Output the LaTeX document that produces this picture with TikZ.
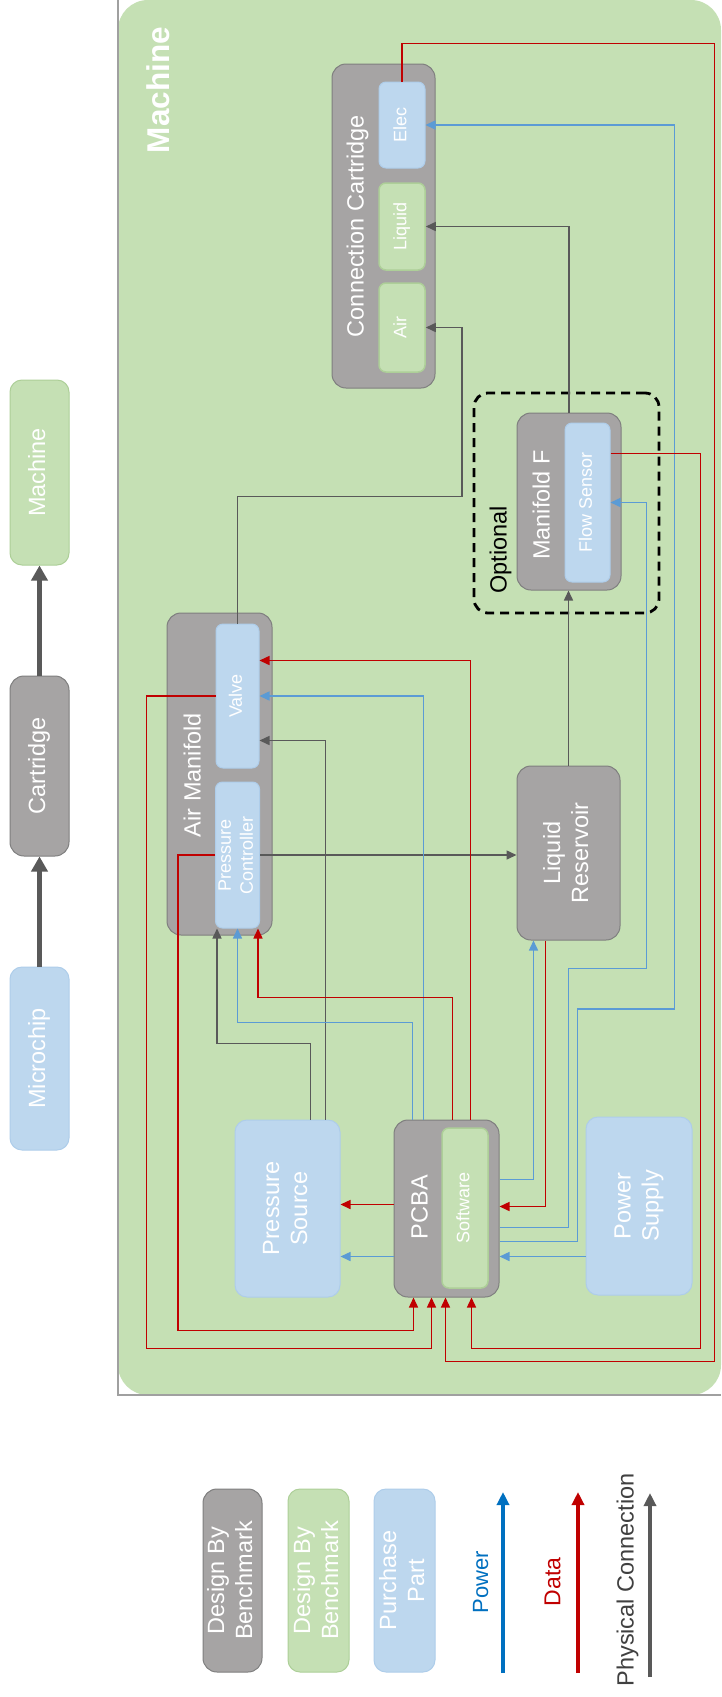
\documentclass[tikz,border=0pt]{standalone}
\usepackage{fontspec}
\setmainfont{Liberation Sans}
\usetikzlibrary{arrows.meta,calc}
\definecolor{bggreen}{HTML}{C5E0B4}
\definecolor{boxgray}{HTML}{A6A4A4}
\definecolor{edgegray}{HTML}{7F7F7F}
\definecolor{boxblue}{HTML}{BDD7EE}
\definecolor{edgeblue}{HTML}{AECDEA}
\definecolor{edgegreen}{HTML}{ADCF98}
\definecolor{pwrblue}{HTML}{5B9BD5}
\definecolor{datred}{HTML}{C00000}
\definecolor{physgray}{HTML}{595959}
\definecolor{legblue}{HTML}{0070C0}
\definecolor{framegray}{HTML}{A0A0A0}
\definecolor{txtdark}{HTML}{404040}
\newcommand{\fbig}{\fontsize{23.5}{28}\selectfont}
\newcommand{\fsmall}{\fontsize{18}{22}\selectfont}
\newcommand{\rlab}[1]{\rotatebox{90}{\begin{tabular}{@{}c@{}}#1\end{tabular}}}
\begin{document}
\begin{tikzpicture}[x=1pt,y=-1pt,
  gbox/.style={draw=edgegray, fill=boxgray, rounded corners=14pt, inner sep=0pt, line width=1pt, text=white, font=\fbig},
  bbox/.style={draw=edgeblue, fill=boxblue, rounded corners=12pt, inner sep=0pt, line width=1pt, text=white, font=\fbig},
  grbox/.style={draw=edgegreen, fill=bggreen, rounded corners=12pt, inner sep=0pt, line width=1pt, text=white, font=\fbig},
  ibox/.style={draw=edgegreen, fill=bggreen, rounded corners=7pt, inner sep=0pt, line width=1.5pt, text=white, font=\fsmall},
  ibbox/.style={draw=edgeblue, fill=boxblue, rounded corners=7pt, inner sep=0pt, line width=1pt, text=white, font=\fsmall},
  lbl/.style={inner sep=0pt, text=white, font=\fbig},
  conn/.style={line width=1.5pt, -{Triangle[length=10pt,width=9pt]}},
  pow/.style={conn, draw=pwrblue},
  dat/.style={conn, draw=datred},
  phys/.style={conn, draw=physgray},
  bigarrow/.style={line width=5pt, draw=physgray, -{Triangle[length=15pt,width=16pt]}}
]
\useasboundingbox (0,0) rectangle (721,1697);
\fill[white] (0,0) rectangle (721,1697);

% machine frame
\node[fill=bggreen, rounded corners=30pt, inner sep=0pt, minimum width=603pt, minimum height=1395pt] (frame) at (419.5,697.5) {};
\draw[framegray, line width=1.5pt] (frame.north west) -- (frame.south west) -- (frame.south east);
\node[inner sep=0pt, text=white, font=\bfseries\fontsize{31.5}{38}\selectfont] (machinelbl) at (162,90) {\rlab{Machine}};

% connection cartridge
\node[gbox, minimum width=103pt, minimum height=324pt] (cc) at (383.5,226) {};
\node[lbl] (cctext) at (358,226) {\rlab{Connection Cartridge}};
\node[ibbox, minimum width=46pt, minimum height=86pt] (elec) at (402,125) {\rlab{Elec}};
\node[ibox, minimum width=46pt, minimum height=87pt] (liquid) at (402,226.5) {\rlab{Liquid}};
\node[ibox, minimum width=46pt, minimum height=89pt] (air) at (402,327.5) {\rlab{Air}};

% air manifold
\node[gbox, minimum width=105pt, minimum height=322pt] (am) at (219.5,774) {};
\node[lbl] (amtext) at (195,775) {\rlab{Air Manifold}};
\node[ibbox, minimum width=43pt, minimum height=144pt] (valve) at (237.5,696) {\rlab{Valve}};
\node[ibbox, minimum width=43pt, minimum height=146pt] (pc) at (237.5,855) {\rlab{Pressure\\Controller}};

% liquid reservoir
\node[gbox, minimum width=103pt, minimum height=174pt] (lr) at (568.5,853) {\rlab{Liquid\\Reservoir}};

% optional manifold F
\node[draw=black, line width=2.8pt, dash pattern=on 9pt off 6pt, rounded corners=14pt, minimum width=185pt, minimum height=220pt, inner sep=0pt] (optbox) at (566.5,503) {};
\node[inner sep=0pt, text=black, font=\fbig] (opttext) at (501,550) {\rlab{Optional}};
\node[gbox, minimum width=104pt, minimum height=177pt] (mff) at (569,501.5) {};
\node[lbl] (mftext) at (544,505) {\rlab{Manifold F}};
\node[ibbox, minimum width=45pt, minimum height=159pt] (fs) at (587.5,502.5) {\rlab{Flow Sensor}};

% bottom row
\node[bbox, minimum width=105pt, minimum height=177pt] (ps) at (287.5,1208.5) {\rlab{Pressure\\Source}};
\node[gbox, minimum width=105pt, minimum height=177pt] (pcba) at (446.5,1208.5) {};
\node[lbl] (pcbatext) at (422,1207) {\rlab{PCBA}};
\node[ibox, minimum width=46pt, minimum height=160pt] (sw) at (465,1208) {\rlab{Software}};
\node[bbox, minimum width=106pt, minimum height=178pt] (psu) at (639,1206) {\rlab{Power\\Supply}};

% physical connections
\draw[phys] (valve.north) -- ($(valve.north)+(0,-127)$) -| ($(air.east)+(36,0)$) -- (air.east);
\draw[phys] (mff.north) |- (liquid.east);
\draw[phys] (lr.north) -- (lr.north |- mff.south);
\draw[phys] (pc.east) -- (pc.east -| lr.west);
\draw[phys] ($(ps.north west)+(76,0)$) |- ($(pc.south west)+(2,115)$) -- ($(pc.south west)+(2,0)$);
\draw[phys] ($(ps.north west)+(91,0)$) |- ($(valve.south east)+(0,-28)$);

% power connections
\draw[pow] ($(pcba.north west)+(19,0)$) |- ($(pc.south)+(0,94)$) -- (pc.south);
\draw[pow] ($(pcba.north west)+(30,0)$) |- (valve.east);
\draw[pow] ($(pcba.south west)+(0,-41)$) -- ($(ps.south east)+(0,-41)$);
\draw[pow] ($(psu.south west)+(0,-39)$) -- ($(pcba.south east)+(0,-41)$);
\draw[pow] ($(pcba.north east)+(0,60)$) -| ($(lr.south west)+(17,0)$);
\draw[pow] ($(pcba.north east)+(0,108)$) -| ($(fs.east)+(-42,466)$) -| ($(fs.east)+(36,0)$) -- (fs.east);
\draw[pow] ($(pcba.north east)+(0,122)$) -| ($(elec.east)+(152,884)$) -| ($(elec.east)+(249,0)$) -- (elec.east);

% data connections
\draw[dat] ($(pcba.north west)+(77,0)$) |- ($(valve.north east)+(0,37)$);
\draw[dat] ($(pcba.north west)+(59,0)$) |- ($(pc.south east)+(-2,69)$) -- ($(pc.south east)+(-2,0)$);
\draw[dat] ($(pcba.north west)+(0,85)$) -- ($(ps.north east)+(0,85)$);
\draw[dat] ($(lr.south west)+(29,0)$) |- ($(pcba.north east)+(0,87)$);
\draw[dat] (valve.west) -- ++(-69,0) |- ($(pcba.south west)+(38,51)$) -- ($(pcba.south west)+(38,0)$);
\draw[dat] (pc.west) -- ++(-37,0) |- ($(pcba.south west)+(20,33)$) -- ($(pcba.south west)+(20,0)$);
\draw[dat] (elec.north) -- ++(0,-38) -| ($(pcba.south west)+(321,64)$) -| ($(pcba.south west)+(52,0)$);
\draw[dat] ($(fs.north east)+(0,31)$) -| ($(pcba.south west)+(307,51)$) -| ($(pcba.south west)+(78,0)$);

% top-left legend
\node[grbox, minimum width=59pt, minimum height=185pt] (mach) at (39.5,472.5) {\rlab{Machine}};
\node[gbox, minimum width=59pt, minimum height=180pt] (cart) at (39.5,766) {\rlab{Cartridge}};
\node[bbox, minimum width=59pt, minimum height=183pt] (micro) at (39.5,1058.5) {\rlab{Microchip}};
\draw[bigarrow] (micro.north) -- (cart.south);
\draw[bigarrow] (cart.north) -- (mach.south);

% bottom legend
\node[gbox, minimum width=59pt, minimum height=183pt] (lg1) at (232.5,1580.5) {\rlab{Design By\\Benchmark}};
\node[grbox, minimum width=61pt, minimum height=183pt] (lg2) at (318.5,1580.5) {\rlab{Design By\\Benchmark}};
\node[bbox, minimum width=61pt, minimum height=183pt] (lg3) at (404.5,1580.5) {\rlab{Purchase\\Part}};
\coordinate (pwa) at (503,1673);
\coordinate (pwb) at (503,1492);
\coordinate (dta) at (578,1673);
\coordinate (dtb) at (578,1492);
\coordinate (pha) at (650,1677);
\coordinate (phb) at (650,1493);
\draw[line width=4pt, draw=legblue, -{Triangle[length=13pt,width=12pt]}] (pwa) -- (pwb);
\draw[line width=4pt, draw=datred, -{Triangle[length=13pt,width=12pt]}] (dta) -- (dtb);
\draw[line width=4pt, draw=physgray, -{Triangle[length=13pt,width=12pt]}] (pha) -- (phb);
\node[inner sep=0pt, text=legblue, font=\fontsize{22}{26}\selectfont] (pwl) at (483,1582) {\rlab{Power}};
\node[inner sep=0pt, text=datred, font=\fontsize{23}{27}\selectfont] (dtl) at (555,1582) {\rlab{Data}};
\node[inner sep=0pt, text=txtdark, font=\fbig] (phl) at (628,1580) {\rlab{Physical Connection}};
\end{tikzpicture}
\end{document}
